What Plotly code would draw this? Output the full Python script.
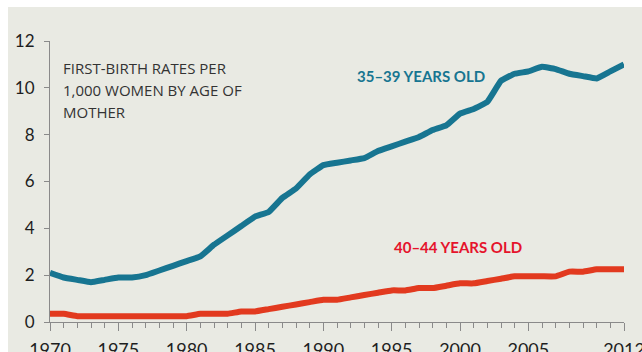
import plotly.graph_objects as go

years = list(range(1970, 2013))
rate_35_39 = [2.1, 1.9, 1.8, 1.7, 1.8, 1.9, 1.9, 2.0, 2.2, 2.4,
              2.6, 2.8, 3.3, 3.7, 4.1, 4.5, 4.7, 5.3, 5.7, 6.3,
              6.7, 6.8, 6.9, 7.0, 7.3, 7.5, 7.7, 7.9, 8.2, 8.4,
              8.9, 9.1, 9.4, 10.3, 10.6, 10.7, 10.9, 10.8, 10.6, 10.5,
              10.4, 10.7, 11.0]
rate_40_44 = [0.35, 0.35, 0.25, 0.25, 0.25, 0.25, 0.25, 0.25, 0.25, 0.25,
              0.25, 0.35, 0.35, 0.35, 0.45, 0.45, 0.55, 0.65, 0.75, 0.85,
              0.95, 0.95, 1.05, 1.15, 1.25, 1.35, 1.35, 1.45, 1.45, 1.55,
              1.65, 1.65, 1.75, 1.85, 1.95, 1.95, 1.95, 1.95, 2.15, 2.15,
              2.25, 2.25, 2.25]
x_tickvals = [1970, 1975, 1980, 1985, 1990, 1995, 2000, 2005, 2012]
y_tickvals = [0, 2, 4, 6, 8, 10, 12]
title_lines = ["FIRST-BIRTH RATES PER", "1,000 WOMEN BY AGE OF", "MOTHER"]
label_35 = "35–39 YEARS OLD"
label_40 = "40–44 YEARS OLD"

BG = "#e9eae3"
TEAL = "#177591"
RED_LINE = "#e23a1f"
RED_TEXT = "#e5132c"

fig = go.Figure()
fig.add_trace(go.Scatter(x=years, y=rate_35_39, mode="lines",
                         line=dict(color=TEAL, width=6, shape="spline", smoothing=0.3),
                         hoverinfo="skip"))
fig.add_trace(go.Scatter(x=years, y=rate_40_44, mode="lines",
                         line=dict(color=RED_LINE, width=6, shape="spline", smoothing=0.3),
                         hoverinfo="skip"))

W, H = 642, 352
L, R, T, B = 50, 18, 41, 30
pw, ph = W - L - R, H - T - B

def px_x(p):
    return (p - L) / pw

def px_y(p):
    return (H - B - p) / ph

# white strips (top and left) outside the tinted panel
fig.add_shape(type="rect", xref="paper", yref="paper", layer="below",
              x0=px_x(-5), x1=px_x(W + 5), y0=px_y(7), y1=px_y(-5),
              fillcolor="white", line=dict(width=0))
fig.add_shape(type="rect", xref="paper", yref="paper", layer="below",
              x0=px_x(-5), x1=px_x(8), y0=px_y(H + 5), y1=px_y(-5),
              fillcolor="white", line=dict(width=0))

for i, line in enumerate(title_lines):
    fig.add_annotation(xref="paper", yref="paper", x=px_x(61), y=px_y(68 + 22 * i),
                       text=line, showarrow=False, xanchor="left", yanchor="middle",
                       font=dict(family="Open Sans", size=15, color="#333333"))

fig.add_annotation(xref="paper", yref="paper", x=px_x(355), y=px_y(75.5),
                   text="<b>%s</b>" % label_35, showarrow=False, xanchor="left", yanchor="middle",
                   font=dict(family="Lato", size=15, color=TEAL))
fig.add_annotation(xref="paper", yref="paper", x=px_x(392), y=px_y(246.5),
                   text="<b>%s</b>" % label_40, showarrow=False, xanchor="left", yanchor="middle",
                   font=dict(family="Lato", size=15, color=RED_TEXT))

fig.update_layout(
    width=W, height=H,
    margin=dict(l=L, r=R, t=T, b=B, pad=0),
    paper_bgcolor=BG, plot_bgcolor=BG,
    showlegend=False,
    xaxis=dict(range=[1970, 2012], tickmode="array", tickvals=x_tickvals,
               automargin=False, ticklabeloverflow="allow",
               ticks="outside", ticklen=8, tickwidth=1, tickcolor="#8a8a8a",
               showline=True, linecolor="#8a8a8a", linewidth=1,
               showgrid=False, zeroline=False,
               tickfont=dict(family="Lato", size=18, color="#1e1e1e"),
               ticklabelstandoff=3,
               minor=dict(dtick=1, tick0=1970, ticks="outside", ticklen=5,
                          tickcolor="#8a8a8a", tickwidth=1, showgrid=False)),
    yaxis=dict(range=[0, 12], tickmode="array", tickvals=y_tickvals,
               automargin=False,
               ticks="outside", ticklen=5, tickwidth=1, tickcolor="#8a8a8a",
               showline=True, linecolor="#8a8a8a", linewidth=1,
               showgrid=False, zeroline=False,
               tickfont=dict(family="Lato", size=17, color="#1e1e1e"),
               ticklabelstandoff=6),
)

fig.write_html("out.html")
